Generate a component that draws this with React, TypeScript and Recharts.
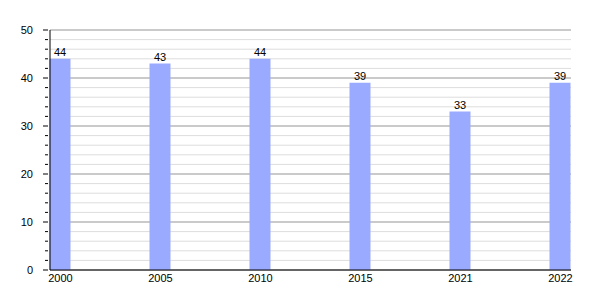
import React from 'react';
import { BarChart, Bar, XAxis, YAxis, CartesianGrid, LabelList } from 'recharts';

const years = ['2000', '2005', '2010', '2015', '2021', '2022'];
const values = [44, 43, 44, 39, 33, 39];
const minorTicks = [0, 2, 4, 6, 8, 10, 12, 14, 16, 18, 20, 22, 24, 26, 28, 30, 32, 34, 36, 38, 40, 42, 44, 46, 48, 50];
const majorTicks = [0, 10, 20, 30, 40, 50];

const data = years.map((year, i) => ({ idx: i, year, value: values[i] }));

const FONT = '"Liberation Sans", Arial, sans-serif';

const YTick = (props: any) => {
  const { x, y, payload } = props;
  const major = payload.value % 10 === 0;
  return (
    <g>
      <line x1={major ? x - 5 : x - 3} x2={x} y1={y} y2={y} stroke="#000" strokeWidth={1} />
      {major && (
        <text x={x - 15} y={y} dy="0.35em" textAnchor="end" fontSize={11} fontFamily={FONT} fill="#000">
          {payload.value}
        </text>
      )}
    </g>
  );
};

const App = () => {
  return (
    <div style={{ width: 600, height: 300 }}>
      <style>{`body { margin: 0; background: #fff; }`}</style>
      <BarChart width={600} height={300} data={data} margin={{ top: 30, right: 29, bottom: 0, left: 0 }}>
        <CartesianGrid horizontal vertical={false} horizontalValues={minorTicks} stroke="#dddddd" />
        <CartesianGrid horizontal vertical={false} horizontalValues={majorTicks} stroke="#a6a6a6" />
        <XAxis
          type="number"
          dataKey="idx"
          domain={[-0.105, 5.105]}
          ticks={[0, 1, 2, 3, 4, 5]}
          tickFormatter={(i: number) => years[i]}
          height={30}
          tickLine={false}
          tickSize={0}
          tickMargin={4}
          stroke="#000"
          tick={{ fontSize: 11, fontFamily: FONT, fill: '#000' }}
        />
        <YAxis
          domain={[0, 50]}
          ticks={minorTicks}
          interval={0}
          width={50}
          tickSize={0}
          tickLine={false}
          stroke="#000"
          tick={<YTick />}
        />
        <Bar dataKey="value" fill="#99aaff" barSize={21} isAnimationActive={false}>
          <LabelList dataKey="value" position="top" offset={3} fontSize={11} fontFamily={FONT} fill="#000" />
        </Bar>
      </BarChart>
    </div>
  );
};

export default App;
